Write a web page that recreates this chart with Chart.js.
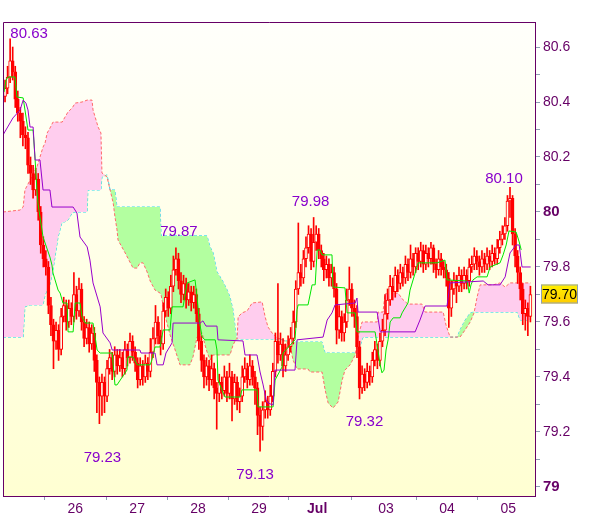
<!DOCTYPE html>
<html>
<head>
<meta charset="utf-8">
<script src="https://cdn.jsdelivr.net/npm/chart.js@4.4.1/dist/chart.umd.min.js"></script>
<style>
    html, body { margin: 0; padding: 0; background: #ffffff; }
    #wrap { width: 600px; height: 519px; }
</style>
</head>
<body>
<div id="wrap"><canvas id="chart" width="600" height="519"></canvas></div>
<script>
// hourly candles, index 0..206
const dayIdx = [27.5, 51.8, 75.7, 99.6, 122.4, 149.4, 173.3, 197.3];
const dayLabels = ['26', '27', '28', '29', 'Jul', '03', '04', '05'];

const opens = [
    80.42,80.45,80.49,80.55,80.51,80.41,80.36,80.33,80.28,80.27,
    80.17,80.14,80.08,80.12,80.00,79.88,79.83,79.80,79.66,79.59,
    79.53,79.57,79.50,79.62,79.66,79.60,79.65,79.62,79.70,79.64,
    79.72,79.60,79.54,79.58,79.52,79.56,79.46,79.38,79.33,79.38,
    79.33,79.43,79.47,79.42,79.48,79.44,79.47,79.43,79.50,79.47,
    79.53,79.49,79.45,79.39,79.44,79.40,79.45,79.42,79.49,79.54,
    79.60,79.55,79.52,79.64,79.69,79.65,79.73,79.79,79.83,79.75,
    79.70,79.74,79.68,79.71,79.67,79.70,79.63,79.53,79.46,79.40,
    79.44,79.39,79.43,79.36,79.34,79.38,79.35,79.40,79.34,79.40,
    79.32,79.38,79.31,79.33,79.40,79.43,79.39,79.44,79.40,79.36,
    79.26,79.22,79.28,79.31,79.28,79.33,79.42,79.53,79.48,79.52,
    79.44,79.48,79.51,79.54,79.60,79.72,79.78,79.76,79.83,79.87,
    79.92,79.82,79.89,79.92,79.86,79.83,79.79,79.81,79.76,79.78,
    79.72,79.57,79.62,79.56,79.60,79.68,79.72,79.65,79.62,79.51,
    79.36,79.41,79.38,79.42,79.40,79.46,79.50,79.46,79.53,79.57,
    79.63,79.68,79.73,79.71,79.77,79.74,79.78,79.76,79.81,79.78,
    79.83,79.80,79.85,79.82,79.86,79.81,79.85,79.83,79.87,79.81,
    79.79,79.83,79.80,79.79,79.76,79.65,79.72,79.75,79.73,79.77,
    79.74,79.77,79.75,79.80,79.81,79.84,79.82,79.80,79.83,79.81,
    79.84,79.82,79.85,79.83,79.87,79.90,79.92,79.95,80.04,80.05,
    79.92,79.84,79.78,79.72,79.63,79.65,79.62
];
const highs = [
    80.48,80.53,80.63,80.60,80.53,80.44,80.38,80.36,80.31,80.29,
    80.20,80.17,80.16,80.14,80.02,79.91,79.86,79.82,79.69,79.61,
    79.60,79.59,79.65,79.69,79.68,79.68,79.67,79.78,79.73,79.76,
    79.74,79.62,79.61,79.60,79.59,79.58,79.48,79.40,79.41,79.40,
    79.46,79.50,79.49,79.51,79.50,79.50,79.49,79.53,79.52,79.56,
    79.55,79.51,79.47,79.47,79.46,79.48,79.47,79.54,79.58,79.66,
    79.62,79.57,79.67,79.72,79.71,79.77,79.84,79.87,79.85,79.78,
    79.77,79.76,79.74,79.73,79.73,79.72,79.65,79.55,79.48,79.47,
    79.46,79.48,79.45,79.38,79.41,79.40,79.44,79.42,79.45,79.42,
    79.41,79.40,79.36,79.44,79.47,79.45,79.48,79.46,79.42,79.38,
    79.29,79.31,79.35,79.33,79.37,79.45,79.56,79.74,79.56,79.54,
    79.52,79.55,79.58,79.64,79.75,79.96,79.81,79.86,79.91,79.95,
    79.94,79.98,79.95,79.94,79.88,79.85,79.84,79.83,79.81,79.80,
    79.74,79.66,79.64,79.63,79.72,79.80,79.74,79.68,79.66,79.53,
    79.44,79.43,79.45,79.44,79.49,79.53,79.52,79.56,79.61,79.70,
    79.72,79.77,79.76,79.80,79.79,79.81,79.80,79.84,79.83,79.88,
    79.85,79.87,79.87,79.89,79.88,79.88,79.87,79.89,79.88,79.83,
    79.86,79.85,79.82,79.81,79.78,79.75,79.78,79.77,79.80,79.79,
    79.80,79.79,79.83,79.84,79.87,79.86,79.84,79.86,79.85,79.87,
    79.86,79.88,79.87,79.90,79.93,79.95,79.98,80.06,80.09,80.06,
    79.94,79.86,79.80,79.74,79.68,79.67,79.73
];
const lows = [
    80.40,80.43,80.47,80.48,80.38,80.33,80.27,80.24,80.23,80.14,
    80.10,80.05,80.06,79.97,79.85,79.80,79.77,79.63,79.55,79.43,
    79.50,79.46,79.48,79.60,79.57,79.58,79.59,79.60,79.61,79.62,
    79.57,79.51,79.52,79.49,79.50,79.42,79.27,79.23,79.26,79.27,
    79.31,79.41,79.39,79.40,79.41,79.42,79.40,79.41,79.44,79.45,
    79.46,79.42,79.36,79.37,79.37,79.38,79.39,79.40,79.47,79.52,
    79.52,79.48,79.50,79.62,79.62,79.63,79.71,79.77,79.72,79.67,
    79.68,79.65,79.66,79.64,79.65,79.60,79.50,79.42,79.36,79.37,
    79.35,79.37,79.32,79.21,79.31,79.32,79.33,79.31,79.32,79.24,
    79.30,79.28,79.27,79.31,79.38,79.36,79.37,79.37,79.30,79.19,
    79.13,79.17,79.25,79.25,79.26,79.31,79.40,79.45,79.46,79.40,
    79.42,79.46,79.49,79.52,79.58,79.70,79.73,79.74,79.80,79.85,
    79.79,79.80,79.86,79.83,79.80,79.75,79.76,79.73,79.73,79.69,
    79.52,79.54,79.53,79.53,79.58,79.66,79.62,79.58,79.47,79.32,
    79.34,79.35,79.36,79.37,79.38,79.44,79.43,79.44,79.51,79.55,
    79.61,79.66,79.68,79.69,79.71,79.72,79.73,79.74,79.75,79.76,
    79.77,79.78,79.79,79.80,79.78,79.79,79.80,79.81,79.78,79.76,
    79.77,79.77,79.76,79.73,79.58,79.62,79.70,79.67,79.71,79.71,
    79.72,79.72,79.73,79.78,79.79,79.79,79.77,79.78,79.78,79.79,
    79.79,79.80,79.81,79.81,79.85,79.88,79.90,79.93,79.98,79.88,
    79.80,79.74,79.68,79.59,79.57,79.55,79.60
];
const closes = [
    80.45,80.49,80.55,80.51,80.41,80.36,80.33,80.28,80.27,80.17,
    80.14,80.08,80.12,80.00,79.88,79.83,79.80,79.66,79.59,79.53,
    79.57,79.50,79.62,79.66,79.60,79.65,79.62,79.70,79.64,79.72,
    79.60,79.54,79.58,79.52,79.56,79.46,79.38,79.33,79.38,79.33,
    79.43,79.47,79.42,79.48,79.44,79.47,79.43,79.50,79.47,79.53,
    79.49,79.45,79.39,79.44,79.40,79.45,79.42,79.49,79.54,79.60,
    79.55,79.52,79.64,79.69,79.65,79.73,79.79,79.83,79.75,79.70,
    79.74,79.68,79.71,79.67,79.70,79.63,79.53,79.46,79.40,79.44,
    79.39,79.43,79.36,79.34,79.38,79.35,79.40,79.34,79.40,79.32,
    79.38,79.31,79.33,79.40,79.43,79.39,79.44,79.40,79.36,79.26,
    79.22,79.28,79.31,79.28,79.33,79.42,79.53,79.48,79.52,79.44,
    79.48,79.51,79.54,79.60,79.72,79.78,79.76,79.83,79.87,79.92,
    79.82,79.89,79.92,79.86,79.83,79.79,79.81,79.76,79.78,79.72,
    79.57,79.62,79.56,79.60,79.68,79.72,79.65,79.62,79.51,79.36,
    79.41,79.38,79.42,79.40,79.46,79.50,79.46,79.53,79.57,79.63,
    79.68,79.73,79.71,79.77,79.74,79.78,79.76,79.81,79.78,79.83,
    79.80,79.85,79.82,79.86,79.81,79.85,79.83,79.87,79.81,79.79,
    79.83,79.80,79.79,79.76,79.65,79.72,79.75,79.73,79.77,79.74,
    79.77,79.75,79.80,79.81,79.84,79.82,79.80,79.83,79.81,79.84,
    79.82,79.85,79.83,79.87,79.90,79.92,79.95,80.04,80.05,79.92,
    79.84,79.78,79.72,79.63,79.65,79.62,79.70
];

// ichimoku lines, [candle index, price] at the turning points
const tenkanPts = [
    [-0.4,80.436],[0.4,80.480],[1.2,80.491],[3.9,80.491],[4.7,80.418],[7.1,80.415],
    [9.0,80.298],[11.0,80.298],[11.8,80.189],[12.5,80.080],[12.9,80.033],[13.7,79.982],
    [14.9,79.909],[17.6,79.836],[18.4,79.807],[18.8,79.778],[20.8,79.716],[21.6,79.705],
    [22.7,79.669],[24.3,79.669],[24.7,79.564],[26.7,79.564],[27.5,79.669],[29.4,79.669],
    [30.2,79.618],[31.4,79.596],[34.5,79.596],[36.1,79.498],[37.3,79.487],[42.0,79.487],
    [43.1,79.371],[43.9,79.371],[47.8,79.425],[48.2,79.473],[50.2,79.473],[51.8,79.444],
    [56.9,79.444],[57.6,79.462],[58.8,79.509],[60.8,79.509],[62.0,79.571],[64.7,79.571],
    [65.5,79.655],[69.8,79.655],[71.4,79.742],[74.5,79.753],[75.3,79.691],[76.1,79.607],
    [77.3,79.545],[78.4,79.535],[82.4,79.535],[83.1,79.498],[83.5,79.389],[85.5,79.342],
    [86.3,79.327],[92.2,79.327],[92.9,79.353],[98.8,79.353],[99.2,79.291],[105.1,79.291],
    [105.9,79.389],[108.6,79.436],[109.0,79.487],[113.7,79.535],[114.5,79.644],[114.9,79.662],
    [118.8,79.662],[120.4,79.735],[121.6,79.735],[122.4,79.862],[123.5,79.862],[124.3,79.844],
    [128.2,79.844],[128.6,79.727],[133.3,79.724],[134.1,79.633],[137.3,79.633],[138.0,79.564],
    [145.1,79.564],[145.9,79.516],[147.1,79.444],[147.8,79.415],[148.6,79.425],[149.4,79.498],
    [150.2,79.535],[151.0,79.600],[152.2,79.615],[154.9,79.615],[155.7,79.633],[158.0,79.669],
    [158.8,79.716],[162.0,79.815],[169.4,79.815],[172.5,79.825],[173.3,79.753],[181.2,79.749],
    [182.0,79.705],[182.7,79.735],[183.5,79.753],[185.1,79.764],[189.0,79.764],[190.2,79.800],
    [194.1,79.815],[195.3,79.844],[196.5,79.880],[197.6,79.931],[200.4,79.927],[201.6,79.891],
    [202.4,79.862]
];
const kijunPts = [
    [-0.8,80.280],[3.1,80.342],[5.9,80.371],[7.1,80.407],[8.2,80.396],[9.0,80.371],
    [9.8,80.309],[11.0,80.309],[11.8,80.189],[13.7,80.189],[14.9,80.080],[17.6,80.080],
    [18.4,80.018],[26.7,80.018],[28.2,79.996],[29.4,79.909],[32.2,79.873],[33.3,79.825],
    [34.5,79.742],[37.3,79.655],[38.4,79.560],[41.2,79.524],[42.0,79.498],[52.9,79.498],
    [53.3,79.487],[58.8,79.487],[59.6,79.444],[62.0,79.444],[63.1,79.487],[65.5,79.524],
    [65.9,79.596],[76.5,79.596],[77.6,79.604],[78.8,79.585],[83.1,79.585],[83.5,79.535],
    [93.3,79.531],[94.1,79.480],[98.8,79.480],[100.0,79.418],[101.2,79.371],[102.4,79.316],
    [103.1,79.305],[105.1,79.298],[105.9,79.425],[113.7,79.425],[114.5,79.535],[124.7,79.545],
    [126.3,79.607],[128.2,79.633],[129.4,79.662],[137.3,79.669],[138.0,79.687],[138.4,79.636],
    [145.9,79.636],[147.1,79.564],[160.8,79.564],[162.7,79.607],[164.7,79.658],[173.3,79.658],
    [174.5,79.742],[187.5,79.749],[189.4,79.735],[194.1,79.735],[196.1,79.764],[198.0,79.851],
    [200.4,79.880],[201.6,79.880],[202.7,79.800],[206.1,79.800]
];

// cloud: span A and span B read at the same candle positions
const cloudIdx = [
    -0.8, 5.9, 7.1, 7.8, 9.8, 12.5, 14.9, 15.7, 16.5, 17.6, 18.8, 19.6, 20.8, 22.4, 23.5,
    24.7, 26.3, 27.5, 30.2, 32.2, 32.5, 34.1, 34.5, 36.5, 37.6, 38.0, 40.0, 41.2, 42.4, 43.1,
    43.9, 44.3, 47.1, 50.2, 51.8, 52.9, 54.1, 55.7, 56.9, 58.8, 60.8, 61.2, 62.7, 64.7, 66.7,
    68.6, 72.5, 73.7, 75.3, 77.3, 78.4, 79.2, 80.4, 81.6, 83.1, 85.1, 87.1, 88.2, 89.4, 90.6,
    91.0, 91.4, 92.9, 94.9, 96.9, 100.8, 102.0, 103.1, 104.7, 106.7, 109.0, 111.8, 112.9, 114.5, 118.8,
    119.6, 124.3, 125.5, 126.7, 128.6, 130.6, 132.2, 133.3, 135.3, 137.3, 138.4, 140.0, 140.4, 145.9, 146.3,
    148.2, 149.0, 154.1, 156.1, 158.0, 163.5, 164.7, 171.8, 172.9, 174.5, 177.3, 178.4, 180.4, 182.4, 183.9,
    185.1, 186.3, 191.4, 194.1, 196.1, 198.0, 200.8, 202.0, 206.1
];
const spanA = [
    80.000, 80.007, 80.018, 80.080, 80.116, 80.164, 80.236, 80.251, 80.287, 80.305, 80.327, 80.327, 80.327, 80.327, 80.345,
    80.364, 80.378, 80.396, 80.400, 80.407, 80.407, 80.407, 80.371, 80.309, 80.287, 80.142, 80.127, 80.080, 80.033, 79.982,
    79.935, 79.898, 79.851, 79.796, 79.796, 79.815, 79.815, 79.782, 79.749, 79.716, 79.705, 79.698, 79.625, 79.553, 79.498,
    79.444, 79.444, 79.473, 79.545, 79.560, 79.516, 79.491, 79.462, 79.480, 79.480, 79.480, 79.480, 79.480, 79.516, 79.538,
    79.538, 79.618, 79.633, 79.640, 79.669, 79.673, 79.618, 79.582, 79.560, 79.542, 79.535, 79.516, 79.462, 79.429, 79.429,
    79.418, 79.418, 79.353, 79.305, 79.287, 79.309, 79.389, 79.425, 79.444, 79.480, 79.545, 79.600, 79.600, 79.600, 79.636,
    79.636, 79.702, 79.705, 79.680, 79.665, 79.665, 79.636, 79.636, 79.589, 79.545, 79.545, 79.545, 79.571, 79.600, 79.633,
    79.691, 79.735, 79.735, 79.742, 79.727, 79.742, 79.742, 79.742, 79.742
];
const spanB = [
    79.545, 79.545, 79.545, 79.655, 79.662, 79.662, 79.662, 79.698, 79.716, 79.735, 79.789, 79.836, 79.909, 79.964, 79.964,
    79.971, 79.996, 80.000, 80.000, 80.000, 80.080, 80.080, 80.080, 80.080, 80.080, 80.127, 80.135, 80.080, 80.080, 80.080,
    80.018, 80.018, 80.018, 80.018, 80.018, 80.018, 80.018, 80.018, 80.018, 80.018, 80.018, 79.913, 79.913, 79.913, 79.913,
    79.913, 79.913, 79.913, 79.913, 79.913, 79.913, 79.913, 79.873, 79.851, 79.782, 79.753, 79.716, 79.691, 79.644, 79.553,
    79.538, 79.538, 79.538, 79.538, 79.538, 79.538, 79.538, 79.538, 79.538, 79.538, 79.535, 79.527, 79.527, 79.527, 79.527,
    79.527, 79.527, 79.487, 79.487, 79.487, 79.487, 79.487, 79.487, 79.487, 79.487, 79.487, 79.535, 79.545, 79.545, 79.545,
    79.545, 79.545, 79.545, 79.545, 79.545, 79.545, 79.545, 79.545, 79.545, 79.545, 79.545, 79.571, 79.607, 79.633, 79.636,
    79.636, 79.636, 79.636, 79.636, 79.636, 79.636, 79.636, 79.607, 79.607
];

// high / low marks written on the chart
const markIdx = [2, 37, 67, 121, 100, 139, 198];
const markVal = [80.63, 79.23, 79.87, 79.98, 79.13, 79.32, 80.10];

const yTicks = [79.0, 79.1, 79.2, 79.3, 79.4, 79.5, 79.6, 79.7, 79.8, 79.9,
                80.0, 80.1, 80.2, 80.3, 80.4, 80.5, 80.6];

const FONT = '"Liberation Sans", Arial, sans-serif';
const AXIS = '#660066';
const TICK = '#8fa0b4';

// pixel nudges for the mark texts, same order as markIdx
const markNudge = [[19, -5], [3, 34], [3, -16], [-3, -16], [-5, 24], [5, 23], [-6, -6]];

const toPts = pts => pts.map(p => ({ x: p[0], y: p[1] }));

const ichimokuDeco = {
    id: 'ichimokuDeco',
    beforeDraw(chart) {
        const { ctx, chartArea: a } = chart;
        const g = ctx.createLinearGradient(0, a.top, 0, a.bottom);
        g.addColorStop(0, '#fffffb');
        g.addColorStop(1, '#ffffd2');
        ctx.save();
        ctx.fillStyle = g;
        ctx.fillRect(a.left, a.top, a.right - a.left, a.bottom - a.top);
        ctx.restore();
    },
    afterDatasetsDraw(chart) {
        const { ctx } = chart;
        const xs = chart.scales.x, ys = chart.scales.y;
        ctx.save();
        ctx.font = '15px ' + FONT;
        ctx.fillStyle = '#8800cc';
        ctx.textAlign = 'center';
        ctx.textBaseline = 'middle';
        markIdx.forEach((idx, i) => {
            const px = xs.getPixelForValue(idx) + markNudge[i][0];
            const py = ys.getPixelForValue(markVal[i]) + markNudge[i][1];
            ctx.fillText(markVal[i].toFixed(2), px, py);
        });
        ctx.restore();
    },
    afterDraw(chart) {
        const { ctx, chartArea: a } = chart;
        ctx.save();
        // frame on the left and top
        ctx.strokeStyle = AXIS;
        ctx.lineWidth = 1;
        ctx.beginPath();
        ctx.moveTo(a.left + 0.5, a.bottom);
        ctx.lineTo(a.left + 0.5, a.top + 0.5);
        ctx.lineTo(a.right, a.top + 0.5);
        ctx.stroke();

        // last price box
        const last = closes[closes.length - 1];
        const y = Math.round(chart.scales.y.getPixelForValue(last));
        const bx = a.right + 6, bw = 37, bh = 19;
        const g = ctx.createLinearGradient(0, y - bh / 2, 0, y + bh / 2);
        g.addColorStop(0, '#fff000');
        g.addColorStop(1, '#ffcc00');
        ctx.fillStyle = g;
        ctx.fillRect(bx, y - bh / 2, bw, bh);
        ctx.strokeStyle = '#8fa0b4';
        ctx.strokeRect(bx + 0.5, y - bh / 2 + 0.5, bw - 1, bh - 1);
        ctx.fillStyle = '#000000';
        ctx.font = '14px ' + FONT;
        ctx.textAlign = 'center';
        ctx.textBaseline = 'middle';
        ctx.fillText(last.toFixed(2), bx + bw / 2, y + 1);
        ctx.restore();
    }
};

const candleIdx = closes.map((c, i) => i);

const config = {
    type: 'line',
    data: {
        datasets: [
            {
                label: 'Senkou A',
                data: cloudIdx.map((x, i) => ({ x: x, y: spanA[i] })),
                borderColor: '#ff6a6a',
                borderWidth: 1,
                borderDash: [3, 2],
                pointRadius: 0,
                fill: { target: '+1', above: '#ffcdee', below: '#b3ffa0' },
                order: 3
            },
            {
                label: 'Senkou B',
                data: cloudIdx.map((x, i) => ({ x: x, y: spanB[i] })),
                borderColor: '#22d8ee',
                borderWidth: 1,
                borderDash: [3, 2],
                pointRadius: 0,
                fill: false,
                order: 3
            },
            {
                type: 'bar',
                label: 'wicks',
                data: candleIdx.map(i => ({ x: i, y: [lows[i], highs[i]] })),
                backgroundColor: '#ff0000',
                borderWidth: 0,
                barThickness: 1,
                grouped: false,
                order: 2
            },
            {
                type: 'bar',
                label: 'bodies',
                data: candleIdx.map(i => ({ x: i, y: [opens[i], closes[i]] })),
                backgroundColor: candleIdx.map(i => closes[i] < opens[i] ? '#ff0000' : '#fffff0'),
                borderColor: '#ff0000',
                borderWidth: 1,
                borderSkipped: false,
                barThickness: 3,
                minBarLength: 1,
                grouped: false,
                order: 1
            },
            {
                label: 'Kijun',
                data: toPts(kijunPts),
                borderColor: '#9900cc',
                borderWidth: 1,
                pointRadius: 0,
                fill: false,
                order: 0
            },
            {
                label: 'Tenkan',
                data: toPts(tenkanPts),
                borderColor: '#00e600',
                borderWidth: 1,
                pointRadius: 0,
                fill: false,
                order: 0
            }
        ]
    },
    options: {
        responsive: false,
        animation: false,
        layout: { padding: { left: 3, top: 22, right: 0, bottom: 0 } },
        plugins: {
            legend: { display: false },
            tooltip: { enabled: false }
        },
        elements: { line: { tension: 0 } },
        scales: {
            x: {
                type: 'linear',
                min: -0.8,
                max: 207.8,
                offset: false,
                afterBuildTicks: s => { s.ticks = dayIdx.map(v => ({ value: v })); },
                afterFit: s => { s.height = 23; },
                grid: { drawOnChartArea: false, drawTicks: true, tickLength: 4, color: TICK },
                border: { display: true, color: AXIS, width: 1 },
                ticks: {
                    autoSkip: false,
                    maxRotation: 0,
                    padding: 1,
                    color: AXIS,
                    font: ctx => ({ family: FONT, size: 14, weight: dayLabels[ctx.index] === 'Jul' ? 'bold' : 'normal' }),
                    callback: (v, i) => dayLabels[i]
                }
            },
            y: {
                position: 'right',
                min: 78.967,
                max: 80.691,
                afterBuildTicks: s => { s.ticks = yTicks.map(v => ({ value: v })); },
                afterFit: s => { s.width = 65; },
                grid: { drawOnChartArea: false, drawTicks: true, tickLength: 5, color: TICK },
                border: { display: true, color: AXIS, width: 1 },
                ticks: {
                    autoSkip: false,
                    padding: 3,
                    color: AXIS,
                    font: ctx => {
                        const v = ctx.tick ? ctx.tick.value : 0;
                        const whole = Math.abs(v - Math.round(v)) < 0.001;
                        return { family: FONT, size: whole ? 15 : 14, weight: whole ? 'bold' : 'normal' };
                    },
                    callback: v => {
                        const tenth = Math.round(v * 10);
                        if (tenth % 2 !== 0) return '';
                        if (tenth % 10 === 0) return String(tenth / 10);
                        return (tenth / 10).toFixed(1);
                    }
                }
            }
        }
    },
    plugins: [ichimokuDeco]
};

new Chart(document.getElementById('chart'), config);
</script>
</body>
</html>
